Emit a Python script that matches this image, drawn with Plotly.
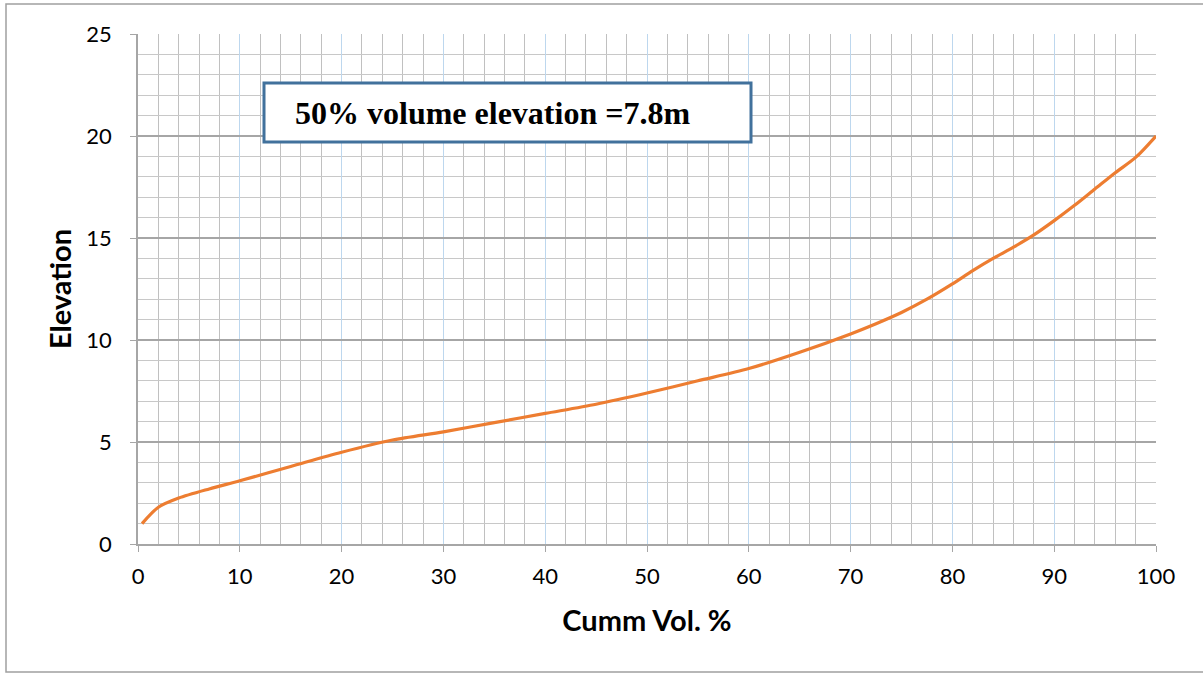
import plotly.graph_objects as go

# Cumulative volume (%) versus elevation (m)
cumm_vol = [0.4, 2, 4, 7, 10, 15, 20, 25, 30, 35, 40, 45, 50, 55, 60, 65, 70, 72.5,
            75, 77.5, 80, 82, 84, 86, 88, 90, 92, 94, 96, 98, 100]
elevation = [1.0, 1.8, 2.25, 2.7, 3.1, 3.8, 4.5, 5.1, 5.5, 5.95, 6.4, 6.85, 7.4, 8.0,
             8.6, 9.4, 10.3, 10.8, 11.35, 12.0, 12.75, 13.4, 14.0, 14.55, 15.15, 15.85,
             16.6, 17.4, 18.2, 18.95, 20.0]

note_text = "50% volume elevation =7.8m"
x_title = "Cumm Vol. %"
y_title = "Elevation"

W, H = 1203, 673
L, R, T, B = 138, 47, 34, 129
pw, ph = W - L - R, H - T - B


def px(x):
    return (x - L) / pw


def py(y):
    return (H - B - y) / ph


fig = go.Figure()
fig.add_trace(go.Scatter(
    x=cumm_vol, y=elevation, mode="lines",
    line=dict(color="#ED7D31", width=3.2, shape="spline", smoothing=0.8),
    hoverinfo="skip", showlegend=False,
))

tick_font = dict(family="Lato", size=22, color="#000000")
title_font = dict(family="Lato", size=29, color="#000000")

fig.update_xaxes(
    range=[0, 100], dtick=10, tick0=0,
    showgrid=True, gridcolor="#BDD7EE", gridwidth=1,
    minor=dict(dtick=2, showgrid=True, gridcolor="#C0C0C0", gridwidth=1),
    showline=True, linecolor="#A6A6A6", linewidth=1.5,
    ticks="outside", ticklen=6, tickcolor="#A6A6A6",
    tickfont=tick_font, zeroline=False, ticklabelstandoff=6,
    title=dict(text="<b>" + x_title + "</b>", font=title_font, standoff=23),
)
fig.update_yaxes(
    range=[0, 25], dtick=5, tick0=0,
    showgrid=True, gridcolor="#A6A6A6", gridwidth=1.5,
    minor=dict(dtick=1, showgrid=True, gridcolor="#C8C8C8", gridwidth=1),
    showline=True, linecolor="#A6A6A6", linewidth=1.5,
    ticks="outside", ticklen=6, tickcolor="#A6A6A6",
    tickfont=tick_font, zeroline=False, ticklabelstandoff=14,
    title=dict(text="<b>" + y_title + "</b>", font=title_font, standoff=6),
)

shapes = [
    # chart outer border
    dict(type="rect", xref="paper", yref="paper",
         x0=px(6), x1=px(1210), y0=py(672), y1=py(4),
         line=dict(color="#A0A0A0", width=1.5), layer="below"),
    # note box
    dict(type="rect", xref="paper", yref="paper",
         x0=px(264), x1=px(751), y0=py(142), y1=py(83),
         line=dict(color="#41719C", width=3), fillcolor="#FFFFFF", layer="above"),
]

fig.update_layout(
    width=W, height=H,
    margin=dict(l=L, r=R, t=T, b=B),
    paper_bgcolor="#FFFFFF", plot_bgcolor="#FFFFFF",
    shapes=shapes,
    annotations=[dict(
        text="<b>" + note_text + "</b>", xref="paper", yref="paper",
        x=px(293), y=py(113), xanchor="left", yanchor="middle", showarrow=False,
        font=dict(family="Liberation Serif", size=32, color="#000000"),
    )],
)

fig.write_html("out.html")
